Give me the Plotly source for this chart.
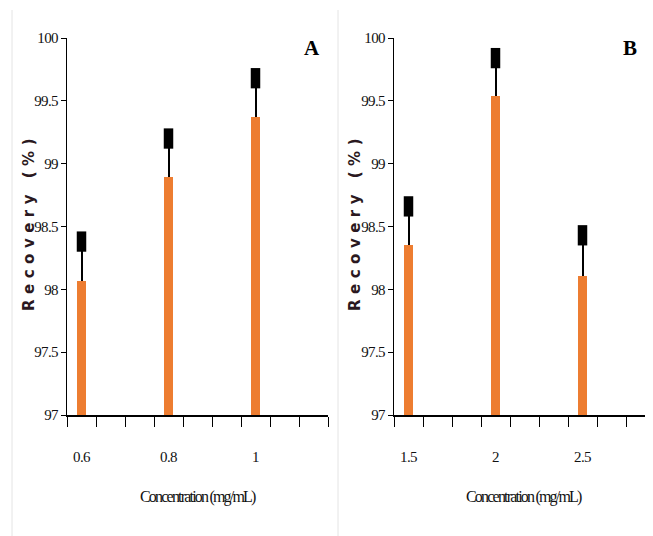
import plotly.graph_objects as go

# ---- data ----
conc_A = [0.6, 0.8, 1.0]
rec_A = [98.07, 98.89, 99.37]
err_A = [0.31, 0.31, 0.31]

conc_B = [1.5, 2.0, 2.5]
rec_B = [98.35, 99.54, 98.11]
err_B = [0.31, 0.30, 0.32]

y_ticks = [97, 97.5, 98, 98.5, 99, 99.5, 100]

ORANGE = "#ED7D31"
W, H = 653, 536
OFF = 8     # page body margin offset
SLOTS = 9   # category slots along each x axis (labels every 3rd slot)


def px_x(p):
    return (p - OFF) / W


def px_y(p):
    return 1 - (p - OFF) / H


def slot_info(conc):
    step = (conc[1] - conc[0]) / 3.0
    lo = conc[0] - step / 2
    bounds = [lo + k * step for k in range(SLOTS + 1)]
    return step, lo, bounds


def squeeze(s, sp=-0.6):
    return f'<span style="letter-spacing:{sp}px">{s}</span>'


fig = go.Figure()

panels = [
    ("x", "y", conc_A, rec_A, err_A),
    ("x2", "y2", conc_B, rec_B, err_B),
]
for xa, ya, conc, rec, err in panels:
    step, lo, bounds = slot_info(conc)
    fig.add_trace(go.Bar(
        x=conc, y=[r - 97 for r in rec], base=97, xaxis=xa, yaxis=ya,
        width=step * 0.33, marker=dict(color=ORANGE, line=dict(width=0)),
        error_y=dict(type="data", array=err, arrayminus=[0] * len(err), symmetric=False,
                     color="black", thickness=2, width=0),
        showlegend=False, hoverinfo="skip"))
    fig.add_trace(go.Scatter(
        x=conc, y=[r + e for r, e in zip(rec, err)], xaxis=xa, yaxis=ya,
        mode="markers", showlegend=False, hoverinfo="skip",
        marker=dict(symbol="line-ns", size=14.5, color="black",
                    line=dict(width=9.5, color="black"))))

tick_font = dict(family="Liberation Serif", size=15, color="#111111")

stepA, loA, bA = slot_info(conc_A)
stepB, loB, bB = slot_info(conc_B)

ydom = [px_y(415), px_y(38)]
common_y = dict(range=[97, 100], tickvals=y_ticks,
                ticktext=[squeeze(f"{t:g}") for t in y_ticks],
                ticks="outside", ticklen=5,
                tickcolor="black", showline=True, linecolor="black", linewidth=1,
                showgrid=False, zeroline=False, tickfont=tick_font, domain=ydom,
                automargin=False)

fig.update_layout(
    width=W, height=H, margin=dict(l=0, r=0, t=0, b=0, pad=0, autoexpand=False),
    paper_bgcolor="white", plot_bgcolor="white",
    bargap=0,
    xaxis=dict(domain=[px_x(67), px_x(328)], range=[bA[0], bA[-1]], tickvals=conc_A,
               ticktext=[squeeze(f"{c:g}") for c in conc_A], ticks="", showline=True,
               linecolor="black", linewidth=1.5, showgrid=False, zeroline=False,
               tickfont=tick_font, ticklabelstandoff=27, anchor="y", automargin=False,
               minor=dict(tickvals=bA, ticks="outside", ticklen=10, tickcolor="black",
                          tickwidth=1, showgrid=False)),
    yaxis=dict(anchor="x", **common_y),
    xaxis2=dict(domain=[px_x(394), px_x(653)],
                range=[bB[0], bB[0] + (653 - 394) / 29 * stepB],
                tickvals=conc_B, ticktext=[squeeze(f"{c:g}") for c in conc_B], ticks="",
                showline=True, linecolor="black", linewidth=1.5, showgrid=False,
                zeroline=False, tickfont=tick_font, ticklabelstandoff=27, anchor="y2",
                automargin=False,
                minor=dict(tickvals=bB, ticks="outside", ticklen=10, tickcolor="black",
                           tickwidth=1, showgrid=False)),
    yaxis2=dict(anchor="x2", **common_y),
)

ytitle = '<span style="letter-spacing:5.5px">Recovery (%)</span>'
xtitle = '<span style="letter-spacing:-1.8px">Concentration (mg/mL)</span>'
yfont = dict(family="DejaVu Sans", size=15, color="#2a1820", weight="bold")
xfont = dict(family="Liberation Serif", size=16, color="#111111")
annos = [
    dict(x=px_x(29), y=px_y(222), text=ytitle, textangle=-90, font=yfont),
    dict(x=px_x(355), y=px_y(222), text=ytitle, textangle=-90, font=yfont),
    dict(x=px_x(198), y=px_y(497), text=xtitle, font=xfont),
    dict(x=px_x(524), y=px_y(497), text=xtitle, font=xfont),
    dict(x=px_x(312), y=px_y(48), text="A",
         font=dict(family="Liberation Serif", size=21, color="black", weight="bold")),
    dict(x=px_x(630), y=px_y(48), text="B",
         font=dict(family="Liberation Serif", size=21, color="black", weight="bold")),
]
for a in annos:
    a.update(xref="paper", yref="paper", showarrow=False, xanchor="center", yanchor="middle")
fig.update_layout(annotations=annos)

for xline in (12, 338):
    fig.add_shape(type="line", xref="paper", yref="paper",
                  x0=px_x(xline), x1=px_x(xline), y0=px_y(10), y1=px_y(536),
                  line=dict(color="#e4e4e4", width=1))

fig.write_html("out.html")
